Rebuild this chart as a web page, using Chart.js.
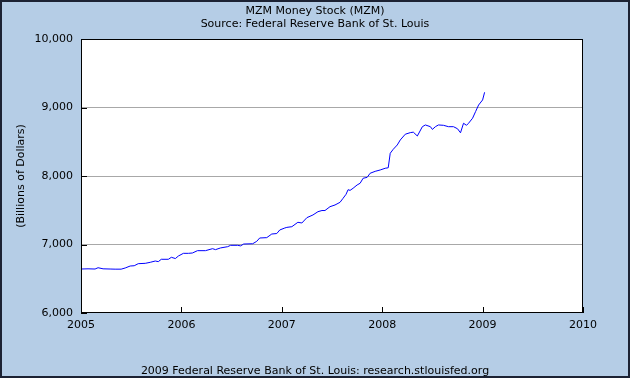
<!DOCTYPE html>
<html>
<head>
<meta charset="utf-8">
<script src="https://cdn.jsdelivr.net/npm/chart.js@4.4.0/dist/chart.umd.min.js"></script>
<style>
  html, body { margin: 0; padding: 0; }
  #wrap { position: relative; width: 630px; height: 378px; background: #b5cde6; font-family: "DejaVu Sans", Verdana, sans-serif; }
  #wrap canvas { position: absolute; left: 0; top: 0; }
  .txt { position: absolute; left: 0; width: 630px; text-align: center; font-size: 11px; color: #000; line-height: 13px; }
  #frame { position: absolute; left: 0; top: 0; width: 630px; height: 378px; box-sizing: border-box; border: 2px solid #1c2233; pointer-events: none; }
</style>
</head>
<body>
<div id="wrap">
  <canvas id="mzmChart" width="630" height="378"></canvas>
  <div class="txt" style="top:4px">MZM Money Stock (MZM)</div>
  <div class="txt" style="top:17px">Source: Federal Reserve Bank of St. Louis</div>
  <div class="txt" style="top:364px">2009 Federal Reserve Bank of St. Louis: research.stlouisfed.org</div>
  <div id="frame"></div>
</div>
<script>
// ======= data (decimal year, billions of dollars) =======
const years = [
  2005.00, 2005.07, 2005.14, 2005.17, 2005.22, 2005.29, 2005.34, 2005.40, 2005.44, 2005.49,
  2005.53, 2005.57, 2005.64, 2005.69, 2005.74, 2005.77, 2005.80, 2005.87, 2005.90, 2005.94,
  2005.97, 2006.02, 2006.07, 2006.11, 2006.16, 2006.24, 2006.31, 2006.34, 2006.39, 2006.46,
  2006.49, 2006.56, 2006.59, 2006.62, 2006.71, 2006.75, 2006.78, 2006.85, 2006.90, 2006.95,
  2006.98, 2007.03, 2007.05, 2007.10, 2007.16, 2007.20, 2007.25, 2007.31, 2007.36, 2007.40,
  2007.43, 2007.48, 2007.53, 2007.58, 2007.61, 2007.64, 2007.66, 2007.68, 2007.71, 2007.75,
  2007.78, 2007.81, 2007.85, 2007.88, 2007.93, 2007.98, 2008.03, 2008.06, 2008.08, 2008.11,
  2008.15, 2008.18, 2008.23, 2008.28, 2008.31, 2008.35, 2008.40, 2008.43, 2008.48, 2008.50,
  2008.53, 2008.56, 2008.61, 2008.66, 2008.71, 2008.75, 2008.78, 2008.81, 2008.84, 2008.86,
  2008.90, 2008.93, 2008.96, 2009.00, 2009.02
]
const mzm = [
  6642, 6645, 6642, 6661, 6645, 6642, 6640, 6640, 6657, 6686,
  6690, 6720, 6725, 6740, 6759, 6750, 6784, 6784, 6813, 6795,
  6832, 6871, 6871, 6876, 6910, 6910, 6939, 6925, 6950, 6968,
  6988, 6988, 6980, 7007, 7011, 7046, 7095, 7100, 7153, 7160,
  7212, 7241, 7250, 7260, 7324, 7314, 7392, 7431, 7479, 7496,
  7496, 7552, 7577, 7616, 7674, 7733, 7800, 7790, 7821, 7869,
  7894, 7967, 7980, 8040, 8068, 8088, 8113, 8120, 8332, 8390,
  8453, 8526, 8610, 8633, 8640, 8584, 8720, 8745, 8720, 8680,
  8720, 8745, 8740, 8720, 8720, 8690, 8631, 8770, 8740, 8770,
  8843, 8940, 9036, 9110, 9222
]
const xTicks = [2005, 2006, 2007, 2008, 2009, 2010]
const yTicks = [6000, 7000, 8000, 9000, 10000]

const FONT = { family: '"DejaVu Sans", Verdana, sans-serif', size: 11 }

// fond blanc de la zone de tracé + cadre noir + petits traits vers l'intérieur
const plotFrame = {
  id: 'plotFrame',
  beforeDraw(chart) {
    const { ctx, chartArea: a } = chart
    ctx.save()
    ctx.fillStyle = '#ffffff'
    ctx.fillRect(a.left, a.top, a.right - a.left, a.bottom - a.top)
    ctx.restore()
  },
  afterDraw(chart) {
    const { ctx, chartArea: a, scales } = chart
    ctx.save()
    ctx.strokeStyle = '#000000'
    ctx.lineWidth = 1
    ctx.strokeRect(a.left + 0.5, a.top + 0.5, a.right - a.left - 1, a.bottom - a.top - 1)
    ctx.beginPath()
    yTicks.forEach(v => {
      const y = Math.round(scales.y.getPixelForValue(v)) + 0.5
      ctx.moveTo(a.left, y)
      ctx.lineTo(a.left + 6, y)
    })
    xTicks.forEach(v => {
      const x = Math.round(scales.x.getPixelForValue(v)) + 0.5
      ctx.moveTo(x, a.bottom)
      ctx.lineTo(x, a.bottom - 6)
    })
    ctx.stroke()
    ctx.restore()
  }
}

const ctx = document.getElementById('mzmChart')
const mzmChart = new Chart(ctx.getContext('2d'), {
  type: 'line',
  data: {
    datasets: [
      {
        label: 'MZM',
        data: years.map((yr, i) => ({ x: yr, y: mzm[i] })),
        borderColor: '#0000ff',
        borderWidth: 1,
        pointRadius: 0,
        tension: 0,
        fill: false
      }
    ]
  },
  options: {
    responsive: false,
    animation: false,
    layout: { padding: { top: 39, right: 47, bottom: 0, left: 0 } },
    plugins: {
      legend: { display: false },
      title: { display: false },
      tooltip: { enabled: false }
    },
    scales: {
      x: {
        type: 'linear',
        min: 2005,
        max: 2010,
        afterFit: s => { s.height = 65 },
        afterBuildTicks: s => { s.ticks = xTicks.map(v => ({ value: v })) },
        grid: { display: false, drawTicks: false },
        border: { display: false },
        ticks: { padding: 6, color: '#000', font: FONT, maxRotation: 0, callback: v => String(v) }
      },
      y: {
        min: 6000,
        max: 10000,
        afterFit: s => { s.width = 81 },
        afterBuildTicks: s => { s.ticks = yTicks.map(v => ({ value: v })) },
        grid: {
          drawTicks: false,
          color: c => (c.tick && (c.tick.value === 6000 || c.tick.value === 10000)) ? 'rgba(0,0,0,0)' : '#a8a8a8',
          lineWidth: 1
        },
        border: { display: false },
        ticks: { padding: 8, color: '#000', font: FONT, callback: v => v.toLocaleString('en-US') },
        title: { display: true, text: '(Billions of Dollars)', color: '#000', font: FONT, padding: { top: 15, bottom: 0 } }
      }
    }
  },
  plugins: [plotFrame]
})
</script>
</body>
</html>
